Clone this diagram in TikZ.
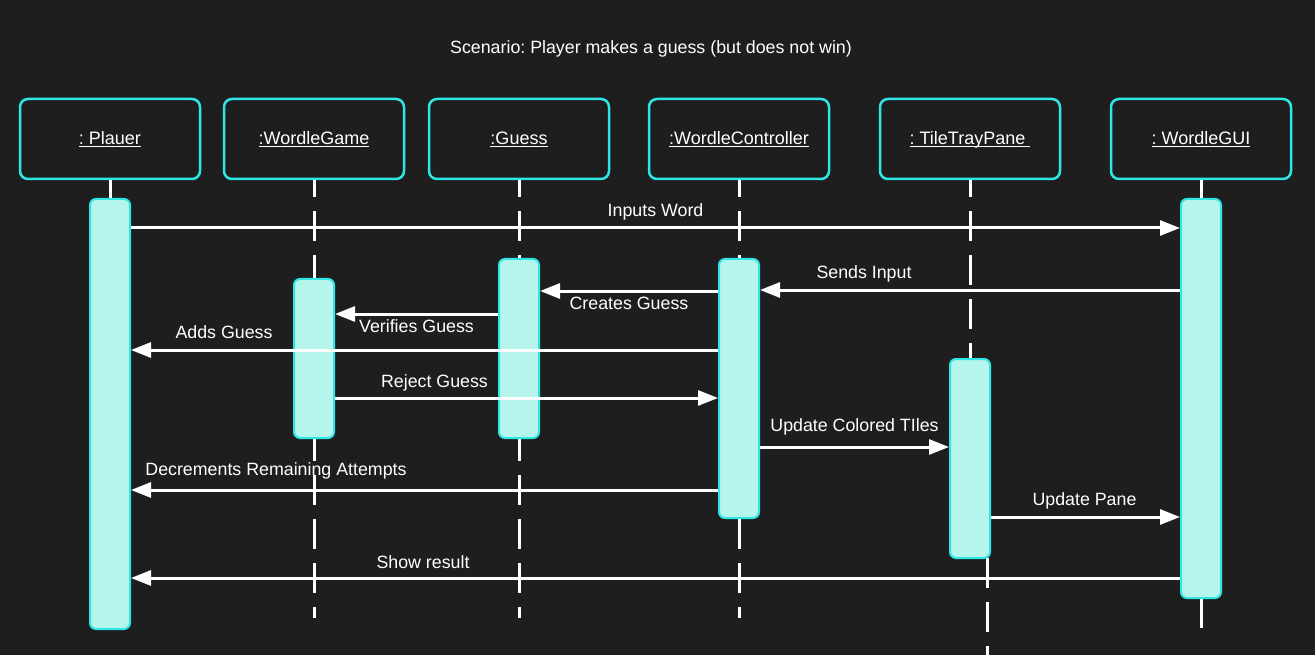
\documentclass[tikz,border=0pt]{standalone}
\usepackage{fontspec}
\setmainfont{Liberation Sans}
\usetikzlibrary{arrows.meta}
\definecolor{bgdark}{HTML}{1E1E1E}
\definecolor{cyanedge}{HTML}{2EE6E6}
\definecolor{actfill}{HTML}{B6F5EB}
\frenchspacing

\begin{document}
\begin{tikzpicture}[x=1pt, y=-1pt,
	head/.style={draw=cyanedge, line width=2.5pt, rounded corners=8pt, minimum width=180pt, minimum height=80pt, text=white, font=\fontsize{18}{21}\selectfont},
	act/.style={draw=cyanedge, fill=actfill, line width=2pt, rounded corners=6pt, minimum width=40pt, inner sep=0pt},
	life/.style={white, line width=3pt, dash pattern=on 30pt off 14pt, dash phase=13pt},
	msg/.style={white, line width=3pt, -{Triangle[length=20pt, width=15pt]}},
	lbl/.style={text=white, anchor=base, inner sep=0pt, font=\fontsize{17.8}{20}\selectfont}]
	\fill [bgdark] (0,0) rectangle (1315,655);
	\useasboundingbox (0,0) rectangle (1315,655);
	\node [lbl] (title) at (651,54) {Scenario: Player makes a guess (but does not win)};
	% heads
	\node [head] (player) at (110,139) {\underline{: Plauer}};
	\node [head] (game) at (314,139) {\underline{:WordleGame}};
	\node [head] (guess) at (519,139) {\underline{:Guess}};
	\node [head] (ctrl) at (739,139) {\underline{:WordleController}};
	\node [head] (tray) at (970,139) {\underline{: TileTra\smash{y}Pane\ }};
	\node [head] (gui) at (1201,139) {\underline{: WordleGUI}};
	% lifelines
	\coordinate (gameend) at (314,618);
	\coordinate (guessend) at (519,618);
	\coordinate (ctrlend) at (739,618);
	\coordinate (traylow) at (987,558);
	\coordinate (trayend) at (987,655);
	\coordinate (guiend) at (1201,640);
	\draw [life] (game.south) -- (gameend);
	\draw [life] (guess.south) -- (guessend);
	\draw [life] (ctrl.south) -- (ctrlend);
	\draw [life] (tray.south) -- (970,359);
	\draw [life, dash phase=0pt] (traylow) -- (trayend);
	\draw [white, line width=3pt] (player.south) -- (110,199);
	\draw [white, line width=3pt] (gui.south) -- (1201,199);
	\draw [life, dash phase=0pt] (1201,598) -- (guiend);
	% activations
	\node [act, minimum height=430pt] (aplayer) at (110,414) {};
	\node [act, minimum height=399pt] (agui) at (1201,398.5) {};
	\node [act, minimum height=179pt] (aguess) at (519,348.5) {};
	\node [act, minimum height=259pt] (actrl) at (739,388.5) {};
	\node [act, minimum height=159pt] (agame) at (314,358.5) {};
	\node [act, minimum height=199pt] (atray) at (970,458.5) {};
	% messages
	\draw [msg] (aplayer.east |- 0,228) -- (agui.west |- 0,228);
	\node [lbl] (tinputs) at (655.5,217) {Inputs Word};
	\draw [msg] (agui.west |- 0,290) -- (actrl.east |- 0,290);
	\node [lbl] (tsends) at (864,278) {Sends Input};
	\draw [msg] (actrl.west |- 0,291) -- (aguess.east |- 0,291);
	\node [lbl] (tcreates) at (629,309) {Creates Guess};
	\draw [msg] (aguess.west |- 0,314) -- (agame.east |- 0,314);
	\node [lbl] (tverifies) at (416.5,332) {Verifies Guess};
	\draw [msg] (actrl.west |- 0,350) -- (aplayer.east |- 0,350);
	\node [lbl] (tadds) at (224,338) {Adds Guess};
	\draw [msg] (agame.east |- 0,398) -- (actrl.west |- 0,398);
	\node [lbl] (treject) at (434.5,387) {Reject Guess};
	\draw [msg] (actrl.east |- 0,447) -- (atray.west |- 0,447);
	\node [lbl] (ttiles) at (854.5,431) {Update Colored TIles};
	\draw [msg] (actrl.west |- 0,490) -- (aplayer.east |- 0,490);
	\node [lbl] (tdecr) at (276,475) {Decrements Remaining Attempts};
	\draw [msg] (atray.east |- 0,517) -- (agui.west |- 0,517);
	\node [lbl] (tpane) at (1084.5,505) {Update Pane};
	\draw [msg] (agui.west |- 0,578) -- (aplayer.east |- 0,578);
	\node [lbl] (tresult) at (423,568) {Show result};
\end{tikzpicture}
\end{document}
